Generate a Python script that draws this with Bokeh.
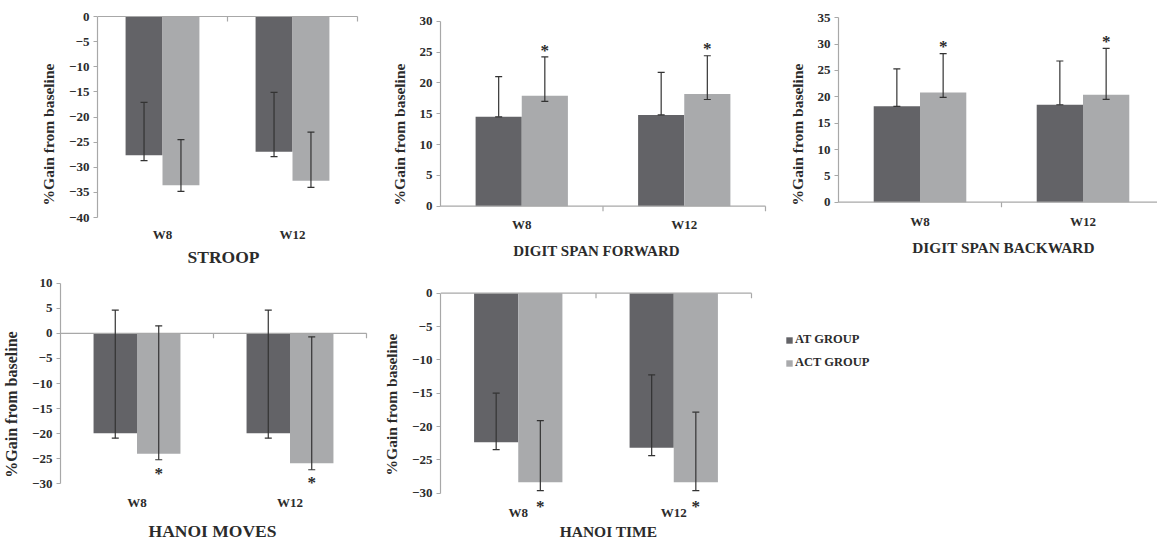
from bokeh.plotting import figure
from bokeh.layouts import row, column
from bokeh.models import (Range1d, FixedTicker, ColumnDataSource, Whisker, TeeHead,
                          Legend, LegendItem)
from bokeh.core.properties import value
from bokeh.embed import file_html
from bokeh.resources import INLINE

# ---------------- data ----------------
categories = ["W8", "W12"]
groups = ["AT GROUP", "ACT GROUP"]

stroop_at = [-27.6, -26.9]
stroop_act = [-33.6, -32.7]
stroop_at_upper = [-17.1, -15.1]
stroop_at_lower = [-28.7, -27.9]
stroop_act_upper = [-24.5, -23.0]
stroop_act_lower = [-34.8, -34.0]
stroop_stars = []

dsf_at = [14.5, 14.8]
dsf_act = [17.9, 18.2]
dsf_at_upper = [21.0, 21.7]
dsf_at_lower = [14.5, 14.8]
dsf_act_upper = [24.2, 24.4]
dsf_act_lower = [17.0, 17.3]
dsf_stars = [25.8, 26.0]

dsb_at = [18.2, 18.5]
dsb_act = [20.8, 20.4]
dsb_at_upper = [25.3, 26.8]
dsb_at_lower = [18.2, 18.5]
dsb_act_upper = [28.2, 29.2]
dsb_act_lower = [19.9, 19.5]
dsb_stars = [30.2, 31.1]

hm_at = [-19.9, -19.9]
hm_act = [-24.0, -25.9]
hm_at_upper = [4.65, 4.65]
hm_at_lower = [-20.9, -20.9]
hm_act_upper = [1.5, -0.7]
hm_act_lower = [-25.2, -27.2]
hm_stars = [-27.4, -29.2]

ht_at = [-22.35, -23.2]
ht_act = [-28.35, -28.35]
ht_at_upper = [-15.0, -12.25]
ht_at_lower = [-23.45, -24.35]
ht_act_upper = [-19.1, -17.85]
ht_act_lower = [-29.6, -29.6]
ht_stars = [-31.5, -31.5]

# ---------------- style ----------------
DARK = "#636367"
LIGHT = "#a9aaac"
AXIS = "#a8a8a8"
TEXT = "#2b2b2b"
ERR = "#333333"
FONT = "Liberation Serif"
BAR_W = 0.284
OFF = 0.142


def panel(title, at, act, at_up, at_lo, act_up, act_lo, stars, ymin, ymax, step,
          fig_box, ax_px, x2_px, ytop_px, ybot_px, label_py, title_py, title_px,
          title_size="15px", ylabel_size="15.5px"):
    fx0, fx1, fy0, fy1 = fig_box
    kx = (x2_px - ax_px) / 2.0
    ky = (ybot_px - ytop_px) / float(ymax - ymin)
    y_end = ymax + (ytop_px - fy0) / ky
    y_start = ymin - (fy1 - ybot_px) / ky
    x_end = 2 + (fx1 - x2_px) / kx

    def py2y(py):
        return ymax - (py - ytop_px) / ky

    p = figure(width=fx1 - fx0, height=fy1 - fy0, x_range=Range1d(0, x_end),
               y_range=Range1d(y_start, y_end), output_backend="svg",
               toolbar_location=None, x_axis_location=None,
               min_border_left=ax_px - fx0, min_border_right=0,
               min_border_top=0, min_border_bottom=0)
    p.outline_line_color = None
    p.grid.visible = False
    p.background_fill_color = "white"
    p.border_fill_color = "white"

    n = len(categories)
    xs_at = [i + 0.5 - OFF for i in range(n)]
    xs_act = [i + 0.5 + OFF for i in range(n)]
    r_at = p.vbar(x=xs_at, top=at, bottom=0, width=BAR_W, fill_color=DARK, line_color=None)
    r_act = p.vbar(x=xs_act, top=act, bottom=0, width=BAR_W, fill_color=LIGHT, line_color=None)

    for xs, up, lo in ((xs_at, at_up, at_lo), (xs_act, act_up, act_lo)):
        src = ColumnDataSource(dict(x=xs, upper=up, lower=lo))
        w = Whisker(base="x", upper="upper", lower="lower", source=src,
                    dimension="height", line_color=ERR, line_width=1.2, level="annotation",
                    upper_head=TeeHead(size=7, line_color=ERR, line_width=1.2),
                    lower_head=TeeHead(size=7, line_color=ERR, line_width=1.2))
        p.add_layout(w)

    # category axis line at zero with boundary ticks
    tick_len = 5 / ky
    p.segment(x0=[0], y0=[0], x1=[2], y1=[0], line_color=AXIS, line_width=1.2)
    p.segment(x0=[1, 2], y0=[0, 0], x1=[1, 2], y1=[-tick_len, -tick_len],
              line_color=AXIS, line_width=1.2)

    # significance stars
    if stars:
        p.text(x=xs_act[:len(stars)], y=stars, text=["*"] * len(stars),
               text_align="center", text_baseline="middle", y_offset=3,
               text_font=value(FONT), text_font_size=value("17px"),
               text_font_style="bold", text_color=TEXT)

    # category labels
    p.text(x=[i + 0.5 for i in range(n)], y=[py2y(label_py)] * n, text=categories,
           text_align="center", text_baseline="middle",
           text_font=value(FONT), text_font_size=value("13px"),
           text_font_style="bold", text_color=TEXT)

    # panel title
    p.text(x=[(title_px - ax_px) / kx], y=[py2y(title_py)], text=[title],
           text_align="center", text_baseline="middle",
           text_font=value(FONT), text_font_size=value(title_size),
           text_font_style="bold", text_color=TEXT)

    # left value axis
    ya = p.yaxis[0]
    ya.bounds = (ymin, ymax)
    ya.ticker = FixedTicker(ticks=list(range(int(ymin), int(ymax) + 1, step)))
    ya.axis_line_color = AXIS
    ya.axis_line_width = 1.2
    ya.major_tick_line_color = AXIS
    ya.major_tick_in = 0
    ya.major_tick_out = 4
    ya.minor_tick_line_color = None
    ya.major_label_standoff = 4
    ya.major_label_text_font = FONT
    ya.major_label_text_font_size = "13px"
    ya.major_label_text_font_style = "bold"
    ya.major_label_text_color = TEXT
    ya.axis_label = "%Gain from baseline"
    ya.axis_label_text_font = FONT
    ya.axis_label_text_font_size = ylabel_size
    ya.axis_label_text_font_style = "bold"
    ya.axis_label_text_color = TEXT
    ya.axis_label_standoff = 9
    return p, r_at, r_act


# panel geometry in page pixels: figure box, x=0 px, x=2 px, ymax px, ymin px,
# category-label row, title row, title centre
pA, _, _ = panel("STROOP", stroop_at, stroop_act, stroop_at_upper, stroop_at_lower,
                 stroop_act_upper, stroop_act_lower, stroop_stars, -40, 0, 5,
                 (0, 378, 0, 268), 97, 357, 16, 217, 234, 256.7, 223,
                 title_size="17.5px")
pB, _, _ = panel("DIGIT SPAN FORWARD", dsf_at, dsf_act, dsf_at_upper, dsf_at_lower,
                 dsf_act_upper, dsf_act_lower, dsf_stars, 0, 30, 5,
                 (378, 770, 0, 268), 440, 765, 20.7, 205.7, 224, 250, 596,
                 title_size="15px")
pC, _, _ = panel("DIGIT SPAN BACKWARD", dsb_at, dsb_act, dsb_at_upper, dsb_at_lower,
                 dsb_act_upper, dsb_act_lower, dsb_stars, 0, 35, 5,
                 (770, 1157, 0, 268), 838, 1164, 17.3, 201.7, 221, 246.7, 1003,
                 title_size="15.3px")
pD, _, _ = panel("HANOI MOVES", hm_at, hm_act, hm_at_upper, hm_at_lower,
                 hm_act_upper, hm_act_lower, hm_stars, -30, 10, 5,
                 (0, 378, 268, 540), 60, 366, 282.7, 483.3, 501.7, 530.5, 212,
                 title_size="17.5px", ylabel_size="16px")
pE, rE_at, rE_act = panel("HANOI TIME", ht_at, ht_act, ht_at_upper, ht_at_lower,
                          ht_act_upper, ht_act_lower, ht_stars, -30, 0, 5,
                          (378, 1157, 268, 540), 440, 751, 292.7, 492.7,
                          511.7, 531, 608, title_size="15.5px")

legend = Legend(items=[LegendItem(label=groups[0], renderers=[rE_at]),
                       LegendItem(label=groups[1], renderers=[rE_act])],
                location=(345, 170), orientation="vertical",
                glyph_width=8, glyph_height=8, label_standoff=2, spacing=8,
                padding=0, margin=0, label_height=12,
                label_text_font=FONT, label_text_font_size="12.5px",
                label_text_font_style="bold", label_text_color=TEXT,
                border_line_color=None, background_fill_alpha=0)
pE.add_layout(legend)

layout = column(row(pA, pB, pC, spacing=0), row(pD, pE, spacing=0), spacing=0)
open("out.html", "w").write(file_html(layout, INLINE))
